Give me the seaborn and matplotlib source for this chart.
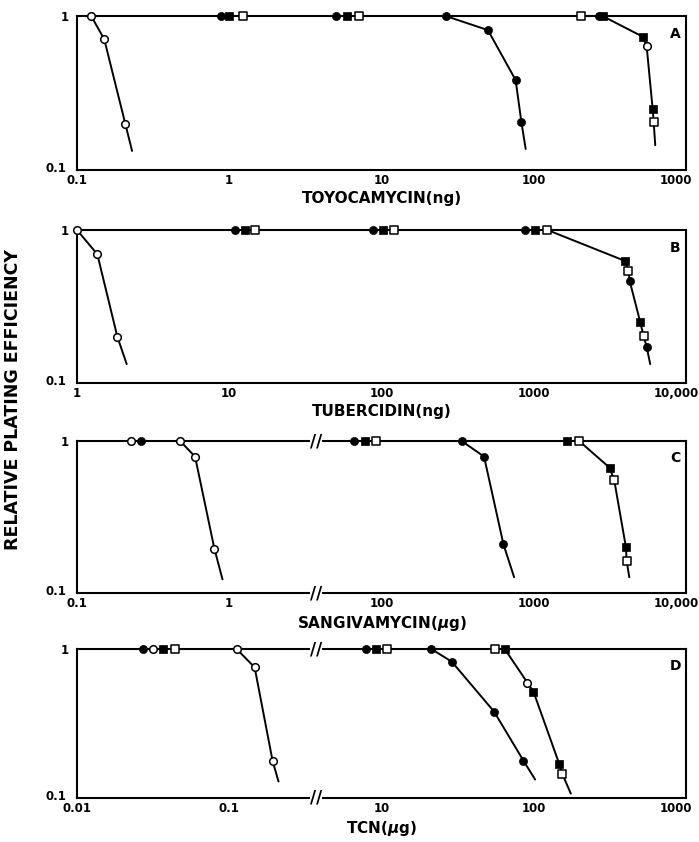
import numpy as np
import pandas as pd
from matplotlib import pyplot as plt
from matplotlib.transforms import blended_transform_factory, ScaledTranslation
import seaborn as sns

sns.set_theme(style='white')
plt.rcParams['font.family'] = ['DejaVu Sans']
plt.rcParams['font.weight'] = 'bold'
plt.rcParams['text.color'] = 'black'
plt.rcParams['axes.labelcolor'] = 'black'

# Each curve: x (dose), y (relative plating efficiency), marker kind.
# kind: oc = open circle, fc = filled circle, fs = filled square,
#       os = open square, end = end of the drawn line (no marker)

# A - toyocamycin (ng)
toyo_c1_x = [0.124, 0.151, 0.208, 0.23]
toyo_c1_y = [1, 0.706, 0.198, 0.133]
toyo_c1_k = ['oc', 'oc', 'oc', 'end']
toyo_c2_x = [0.885, 1.0, 1.23, 5.06, 5.94, 7.1, 26.4, 50, 76, 83, 88.5]
toyo_c2_y = [1, 1, 1, 1, 1, 1, 1, 0.81, 0.384, 0.204, 0.137]
toyo_c2_k = ['fc', 'fs', 'os', 'fc', 'fs', 'os', 'fc', 'fc', 'fc', 'fc', 'end']
toyo_c3_x = [204, 268, 283, 519, 551, 604, 613, 628]
toyo_c3_y = [1, 1, 1, 0.734, 0.641, 0.249, 0.206, 0.145]
toyo_c3_k = ['os', 'fc', 'fs', 'fs', 'oc', 'fs', 'os', 'end']

# B - tubercidin (ng)
tub_c1_x = [1.0, 1.36, 1.84, 2.12]
tub_c1_y = [1, 0.694, 0.201, 0.133]
tub_c1_k = ['oc', 'oc', 'oc', 'end']
tub_c2_x = [10.9, 12.6, 14.7, 88, 102, 120, 873, 1015, 1230,
            3990, 4180, 4270, 5010, 5270, 5510, 5820]
tub_c2_y = [1, 1, 1, 1, 1, 1, 1, 1, 1,
            0.627, 0.54, 0.464, 0.249, 0.203, 0.173, 0.133]
tub_c2_k = ['fc', 'fs', 'os', 'fc', 'fs', 'os', 'fc', 'fs', 'os',
            'fs', 'os', 'fc', 'fs', 'os', 'fc', 'end']

# C - sangivamycin (ug)
sang_c1_x = [0.226, 0.264, 0.476, 0.597, 0.80, 0.904]
sang_c1_y = [1, 1, 1, 0.789, 0.195, 0.123]
sang_c1_k = ['oc', 'fc', 'oc', 'oc', 'oc', 'end']
sang_c2_x = [65.8, 77.6, 91.4, 336, 471, 631, 742]
sang_c2_y = [1, 1, 1, 1, 0.789, 0.21, 0.127]
sang_c2_k = ['fc', 'fs', 'os', 'fc', 'fc', 'fc', 'end']
sang_c3_x = [1650, 1985, 3150, 3375, 4030, 4070, 4240]
sang_c3_y = [1, 1, 0.667, 0.553, 0.2, 0.163, 0.127]
sang_c3_k = ['fs', 'os', 'fs', 'os', 'fs', 'os', 'end']

# D - TCN (ug)
tcn_c1_x = [0.027, 0.0315, 0.0366, 0.0442, 0.112, 0.147, 0.193, 0.211]
tcn_c1_y = [1, 1, 1, 1, 1, 0.753, 0.177, 0.129]
tcn_c1_k = ['fc', 'oc', 'fs', 'os', 'oc', 'oc', 'oc', 'end']
tcn_c2_x = [7.85, 9.14, 10.8, 21.2, 28.9, 54.8, 85.5, 102]
tcn_c2_y = [1, 1, 1, 1, 0.822, 0.38, 0.178, 0.133]
tcn_c2_k = ['fc', 'fs', 'os', 'fc', 'fc', 'fc', 'fc', 'end']
tcn_c3_x = [55.6, 64.4, 90.8, 99.5, 147, 154, 175]
tcn_c3_y = [1, 1, 0.594, 0.517, 0.169, 0.145, 0.107]
tcn_c3_k = ['os', 'fs', 'oc', 'fs', 'fs', 'os', 'end']

# axes: labels, ranges, major ticks, axis breaks
panels = ['A', 'B', 'C', 'D']
xlabels = ['TOYOCAMYCIN(ng)', 'TUBERCIDIN(ng)', 'SANGIVAMYCIN($\\mu$g)', 'TCN($\\mu$g)']
xlims = [(0.1, 1000), (1, 10000), (0.1, 10000), (0.01, 1000)]
xticks = [[0.1, 1, 10, 100, 1000], [1, 10, 100, 1000, 10000],
          [0.1, 1, 100, 1000, 10000], [0.01, 0.1, 10, 100, 1000]]
xticklabels = [['0.1', '1', '10', '100', '1000'],
               ['1', '10', '100', '1000', '10,000'],
               ['0.1', '1', '100', '1000', '10,000'],
               ['0.01', '0.1', '10', '100', '1000']]
breaks = [None, None, (3.7, 37), (0.37, 3.7)]

curves = {
    'A': [(toyo_c1_x, toyo_c1_y, toyo_c1_k), (toyo_c2_x, toyo_c2_y, toyo_c2_k),
          (toyo_c3_x, toyo_c3_y, toyo_c3_k)],
    'B': [(tub_c1_x, tub_c1_y, tub_c1_k), (tub_c2_x, tub_c2_y, tub_c2_k)],
    'C': [(sang_c1_x, sang_c1_y, sang_c1_k), (sang_c2_x, sang_c2_y, sang_c2_k),
          (sang_c3_x, sang_c3_y, sang_c3_k)],
    'D': [(tcn_c1_x, tcn_c1_y, tcn_c1_k), (tcn_c2_x, tcn_c2_y, tcn_c2_k),
          (tcn_c3_x, tcn_c3_y, tcn_c3_k)],
}

rows = []
for p, clist in curves.items():
    for i, (xs, ys, ks) in enumerate(clist):
        for x, y, k in zip(xs, ys, ks):
            rows.append((p, i, x, y, k))
df = pd.DataFrame(rows, columns=['panel', 'curve', 'dose', 'rpe', 'kind'])

marker_style = {
    'oc': dict(marker='o', s=30, facecolor='white', edgecolor='black', linewidth=1.1),
    'fc': dict(marker='o', s=34, facecolor='black', edgecolor='black', linewidth=0.5),
    'fs': dict(marker='s', s=40, facecolor='black', edgecolor='black', linewidth=0.5),
    'os': dict(marker='s', s=30, facecolor='white', edgecolor='black', linewidth=1.1),
}

GAP = 0.002


def broken_log(lo, hi):
    a, b = np.log10(lo), np.log10(hi)
    d = b - a

    def fwd(x):
        with np.errstate(all='ignore'):
            lx = np.log10(np.asarray(x, dtype=float))
            return np.where(lx <= a, lx,
                            np.where(lx >= b, lx - d + GAP, a + (lx - a) * GAP / d))

    def inv(y):
        with np.errstate(all='ignore'):
            y = np.asarray(y, dtype=float)
            return np.where(y <= a, 10 ** y,
                            np.where(y >= a + GAP, 10 ** (y + d - GAP),
                                     10 ** (a + (y - a) * d / GAP)))
    return fwd, inv


def minor_ticks(xmin, xmax, brk):
    out = []
    for e in range(int(np.floor(np.log10(xmin))), int(np.ceil(np.log10(xmax)))):
        for m in range(2, 10):
            v = m * 10.0 ** e
            if xmin < v < xmax and not (brk and brk[0] < v < brk[1]):
                out.append(v)
    return out


fig = plt.figure(figsize=(6.99, 8.42), dpi=100)
# axes boxes in pixels: (top, bottom)
boxes = [(16, 170), (230, 383), (441, 593), (649, 798)]
L, R, H = 77, 686, 842

for i, p in enumerate(panels):
    top, bot = boxes[i]
    ax = fig.add_axes([L / 699, 1 - bot / H, (R - L) / 699, (bot - top) / H])
    sub = df[df.panel == p]
    for c, g in sub.groupby('curve'):
        sns.lineplot(data=g, x='dose', y='rpe', sort=False, estimator=None,
                     color='black', lw=1.4, ax=ax, zorder=2)
    for k in ['fc', 'fs', 'os', 'oc']:
        g = sub[sub.kind == k]
        if len(g):
            sns.scatterplot(data=g, x='dose', y='rpe', ax=ax, zorder=3,
                            clip_on=False, **marker_style[k])

    brk = breaks[i]
    if brk:
        ax.set_xscale('function', functions=broken_log(*brk))
    else:
        ax.set_xscale('log')
    ax.set_yscale('log')
    ax.set_xlim(*xlims[i])
    ax.set_ylim(0.1, 1)

    ax.set_xticks(xticks[i], labels=xticklabels[i])
    ax.set_xticks(minor_ticks(*xlims[i], brk), minor=True)
    ax.set_yticks([0.1, 1], labels=['0.1', '1'])
    ax.set_yticks([0.2, 0.3, 0.4, 0.5, 0.6, 0.7, 0.8, 0.9], minor=True)
    ax.yaxis.set_minor_formatter(plt.NullFormatter())
    ax.xaxis.set_minor_formatter(plt.NullFormatter())

    ax.tick_params(which='both', direction='in', top=False, right=False,
                   width=1.2, colors='black', labelsize=8.5)
    ax.tick_params(axis='x', which='major', length=8, pad=3)
    ax.tick_params(axis='x', which='minor', length=5)
    ax.tick_params(axis='y', which='minor', length=7)
    ax.tick_params(axis='y', which='major', length=0, pad=6)
    for s in ax.spines.values():
        s.set_linewidth(1.5)
        s.set_color('black')

    # keep the right-most tick label inside the figure, lift the 0.1 label
    last = ax.get_xticklabels()[-1]
    last.set_transform(last.get_transform()
                       + ScaledTranslation(-10 / 100, 0, fig.dpi_scale_trans))
    low = ax.get_yticklabels()[0]
    low.set_transform(low.get_transform()
                      + ScaledTranslation(-2 / 100, 3 / 100, fig.dpi_scale_trans))

    ax.set_xlabel(xlabels[i], fontsize=11, fontweight='bold', labelpad=3)
    ax.set_ylabel('')
    ax.text(0.982, 0.885, p, transform=ax.transAxes, ha='center', va='center',
            fontsize=10, fontweight='bold')

    if brk:
        tr = blended_transform_factory(ax.transData, ax.transAxes)
        for yy in (0, 1):
            ax.text(brk[0], yy, '//', transform=tr, ha='center', va='center',
                    fontsize=12, fontweight='bold', zorder=5, clip_on=False,
                    bbox=dict(boxstyle='square,pad=0', fc='white', ec='none'))

fig.text(13 / 699, 1 - 400 / H, 'RELATIVE PLATING EFFICIENCY', rotation=90,
         ha='center', va='center', fontsize=12.5, fontweight='bold')

fig.savefig('out.png', dpi=100)
